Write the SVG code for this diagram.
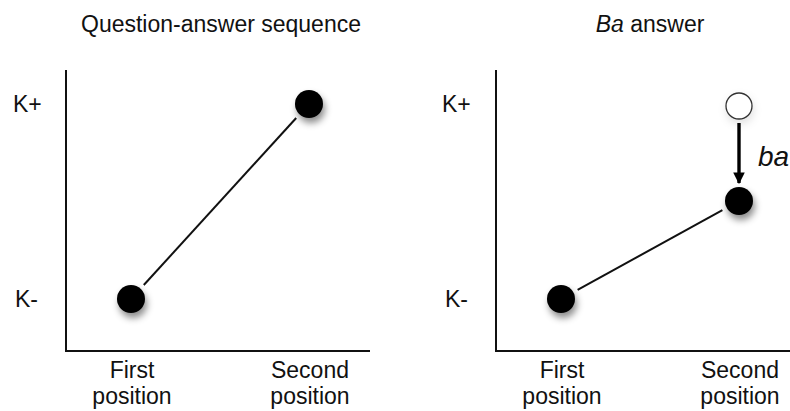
<svg xmlns="http://www.w3.org/2000/svg" width="790" height="411" viewBox="0 0 790 411">
<defs>
<style>
text{font-family:"Liberation Sans",Arial,Helvetica,sans-serif;font-size:23px;fill:#111}
.c{text-anchor:middle}
.ba{font-size:28px;font-style:italic}
.axis{stroke:#111;stroke-width:2;fill:none}
.edge{stroke:#111;stroke-width:2;fill:none}
.dot{fill:#000;filter:url(#sh)}
.hollow{fill:#fff;stroke:#333;stroke-width:1.3;filter:url(#sh2)}
</style>
<filter id="sh" x="-60%" y="-60%" width="220%" height="240%">
<feDropShadow dx="2" dy="5" stdDeviation="3.5" flood-color="#000" flood-opacity="0.45"/>
</filter>
<filter id="sh2" x="-60%" y="-60%" width="220%" height="240%">
<feDropShadow dx="1" dy="4" stdDeviation="4" flood-color="#000" flood-opacity="0.12"/>
</filter>
<marker id="ah" viewBox="0 0 10 10" refX="9" refY="5" markerWidth="3.6" markerHeight="3.4" markerUnits="strokeWidth" orient="auto">
<path d="M0,0 L10,5 L0,10 Z" fill="#000"/>
</marker>
</defs>

<g id="left-chart">
<text class="c" x="221" y="32">Question-answer sequence</text>
<path class="axis" d="M66,70 V351 H370"/>
<text x="13" y="112">K+</text>
<text x="15" y="307">K-</text>
<text class="c" x="132" y="378">First</text>
<text class="c" x="132" y="404">position</text>
<text class="c" x="310" y="378">Second</text>
<text class="c" x="310" y="404">position</text>
</g>

<g id="right-chart">
<text class="c" x="650" y="32"><tspan font-style="italic">Ba</tspan> answer</text>
<path class="axis" d="M496,70 V351 H790"/>
<text x="442" y="112">K+</text>
<text x="445" y="307">K-</text>
<text class="c" x="562" y="378">First</text>
<text class="c" x="562" y="404">position</text>
<text class="c" x="740" y="378">Second</text>
<text class="c" x="740" y="404">position</text>
</g>

<g id="connectors">
<line class="edge" x1="143.8" y1="285" x2="296.2" y2="118"/>
<line class="edge" x1="577.6" y1="289.8" x2="722.4" y2="210.2"/>
<line x1="739" y1="123" x2="739" y2="183" stroke="#000" stroke-width="3.4" marker-end="url(#ah)"/>
<text class="ba" x="758" y="166">ba</text>
</g>

<g id="node-left-first"><circle class="dot" cx="131" cy="299" r="14"/></g>
<g id="node-left-second"><circle class="dot" cx="309" cy="104" r="14"/></g>
<g id="node-right-first"><circle class="dot" cx="561" cy="299" r="14"/></g>
<g id="node-right-second"><circle class="dot" cx="739" cy="201" r="14"/></g>
<g id="node-right-original"><circle class="hollow" cx="739" cy="106" r="13"/></g>
</svg>
